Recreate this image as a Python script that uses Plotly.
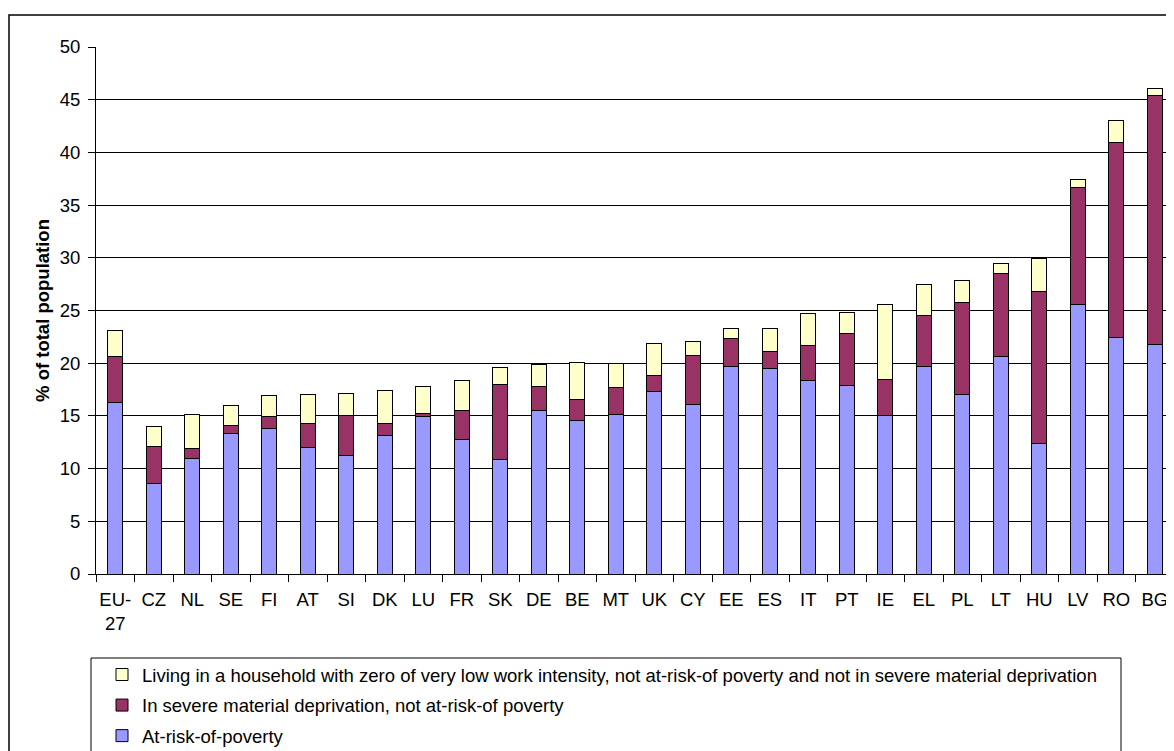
import plotly.graph_objects as go

# Countries, ordered as in the chart
countries = ["EU-27", "CZ", "NL", "SE", "FI", "AT", "SI", "DK", "LU", "FR", "SK", "DE", "BE",
             "MT", "UK", "CY", "EE", "ES", "IT", "PT", "IE", "EL", "PL", "LT", "HU", "LV", "RO", "BG"]

# Stacked components (% of total population)
at_risk_poverty = [16.3, 8.6, 11.0, 13.3, 13.8, 12.0, 11.2, 13.1, 14.9, 12.8, 10.9, 15.5, 14.6,
                   15.1, 17.3, 16.1, 19.7, 19.5, 18.4, 17.9, 15.0, 19.7, 17.0, 20.6, 12.4, 25.6, 22.4, 21.8]
severe_deprivation = [4.3, 3.5, 0.9, 0.8, 1.1, 2.3, 3.8, 1.2, 0.3, 2.7, 7.1, 2.3, 2.0,
                      2.6, 1.5, 4.6, 2.6, 1.6, 3.3, 4.9, 3.5, 4.8, 8.8, 7.9, 14.4, 11.1, 18.5, 23.6]
low_work_intensity = [2.5, 1.9, 3.2, 1.9, 2.0, 2.7, 2.1, 3.1, 2.6, 2.9, 1.6, 2.1, 3.5,
                      2.3, 3.1, 1.4, 1.0, 2.2, 3.0, 2.0, 7.1, 3.0, 2.0, 1.0, 3.1, 0.7, 2.1, 0.7]

tick_text = [c.replace("EU-", "EU-<br>") for c in countries]

COLORS = {
    'poverty': '#9999FF',
    'deprivation': '#993366',
    'work': '#FFFFCC',
}
FONT = "Arial, 'Liberation Sans', sans-serif"
FONT_SIZE = 18.5

# figure is taller than the window; the bottom is cut like in the reference
W, H = 1174, 770
L, R, T = 88, 8, 39
B = H - 566
PW, PH = W - L - R, H - T - B


def px_x(x):
    # figure pixel -> paper x
    return (x - L) / PW


def px_y(y):
    # figure pixel -> paper y
    return (H - B - y) / PH


fig = go.Figure()

series = [
    ("At-risk-of-poverty", at_risk_poverty, COLORS['poverty']),
    ("In severe material deprivation, not at-risk-of poverty", severe_deprivation, COLORS['deprivation']),
    ("Living in a household with zero of very low work intensity, not at-risk-of poverty and not in severe material deprivation",
     low_work_intensity, COLORS['work']),
]

for i, (name, vals, color) in enumerate(series):
    fig.add_trace(go.Bar(
        x=countries,
        y=vals,
        name=name,
        marker=dict(color=color, line=dict(color='black', width=1)),
        legendgroup=f"g{i}",
        legendrank=len(series) - i,  # top segment listed first
    ))

fig.update_layout(
    width=W,
    height=H,
    barmode='stack',
    bargap=0.6,
    margin=dict(l=L, r=R, t=T, b=B),
    plot_bgcolor='white',
    paper_bgcolor='white',
    font=dict(family=FONT, size=FONT_SIZE, color='black'),
    legend=dict(
        traceorder='grouped',
        x=px_x(94),
        xanchor='left',
        y=px_y(648),
        yanchor='top',
        bgcolor='rgba(0,0,0,0)',
        borderwidth=0,
        font=dict(size=FONT_SIZE),
        tracegroupgap=3.5,
    ),
    shapes=[
        # outer chart border
        dict(type='rect', xref='paper', yref='paper',
             x0=px_x(1), x1=px_x(1250), y0=px_y(850), y1=px_y(7),
             line=dict(color='black', width=1.5), fillcolor='rgba(0,0,0,0)', layer='below'),
        # legend box
        dict(type='rect', xref='paper', yref='paper',
             x0=px_x(83), x1=px_x(1113), y0=px_y(850), y1=px_y(650),
             line=dict(color='black', width=1), fillcolor='rgba(0,0,0,0)'),
    ],
)

fig.update_xaxes(
    type='category',
    tickvals=countries,
    ticktext=tick_text,
    tickangle=0,
    showline=True,
    linecolor='black',
    linewidth=1,
    ticks='outside',
    tickson='boundaries',
    ticklen=7,
    tickcolor='black',
    ticklabelstandoff=9,
    showgrid=False,
    range=[-0.5, len(countries) - 0.5],
)

fig.update_yaxes(
    range=[0, 50],
    dtick=5,
    showline=True,
    linecolor='black',
    linewidth=1,
    ticks='outside',
    ticklen=7,
    tickcolor='black',
    ticklabelstandoff=4,
    showgrid=True,
    gridcolor='black',
    gridwidth=1,
    zeroline=False,
    title=dict(text="<b>% of total population</b>", standoff=5, font=dict(size=FONT_SIZE)),
)

fig.write_html("out.html")
